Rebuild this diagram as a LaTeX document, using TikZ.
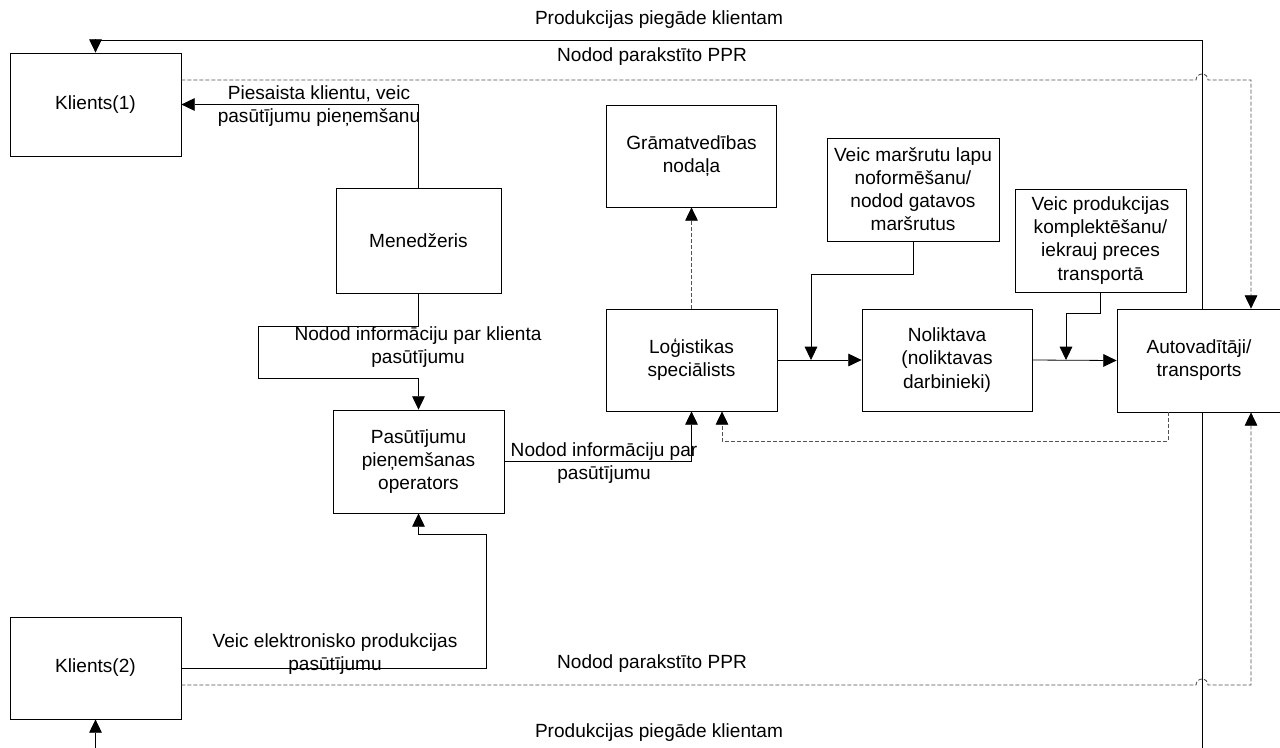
\documentclass[tikz,border=0pt]{standalone}
\usepackage{fontspec}
\setmainfont{Liberation Sans}
\usetikzlibrary{arrows.meta}
\begin{document}
\begin{tikzpicture}[x=0.75pt,y=-0.75pt,
  font=\fontsize{14.3}{17.3}\selectfont,
  box/.style 2 args={draw, fill=white, line width=0.6pt, align=center,
    inner sep=0pt, minimum width=#1*0.75pt, minimum height=#2*0.75pt},
  conn/.style={line width=0.6pt, draw=black},
  tip/.style={-{Triangle[length=10pt,width=9.5pt,black]}},
  dline/.style={line width=0.65pt, draw=black!68, dash pattern=on 3pt off 1.5pt},
  lbl/.style={align=center, inner sep=0pt}
]
\useasboundingbox (0,0) rectangle (1280,747);
\clip (0,0) rectangle (1280,747);
\fill[white] (0,0) rectangle (1280,747);

% boxes
\node[box={171}{103}] (k1)   at (95.5,104.5) {Klients(1)};
\node[box={171}{102}] (k2)   at (95.5,668)   {Klients(2)};
\node[box={165}{105}] (men)  at (418.5,240.5) {Menedžeris};
\node[box={171}{103}] (pas)  at (418.5,461.5) {Pasūtījumu\\pieņemšanas\\operators};
\node[box={171}{102}] (log)  at (691.5,360)  {Loģistikas\\speciālists};
\node[box={170}{102}] (gram) at (691.5,156)  {Grāmatvedības\\nodaļa};
\node[box={172}{103}] (mars) at (913,189.5)  {Veic maršrutu lapu\\noformēšanu/\\nodod gatavos\\maršrutus};
\node[box={170}{102}] (nol)  at (947,360)    {Noliktava\\(noliktavas\\darbinieki)};
\node[box={171}{103}] (prod) at (1100.5,240.5) {Veic produkcijas\\komplektēšanu/\\iekrauj preces\\transportā};
\node[box={164}{103}] (auto) at (1199,360.5) {Autovadītāji/\\transports};

% helper coordinates
\coordinate (vx) at (1202,0);
\coordinate (dx) at (1251,0);
\coordinate (j1) at (811,360);
\coordinate (j2) at (1066,360);

% delivery to clients (solid, around the right side)
\draw[conn,tip] (auto.north -| vx) -- (vx |- 0,40) -| (k1.north);
\draw[conn,tip] (auto.south -| vx) -- (vx |- 0,775) -| (k2.south);

% signed PPR (dashed, with line jumps)
\draw[dline,tip] (k1.east |- 0,80) -- (1196,80)
  arc[start angle=180,end angle=0,radius=4.5pt] -- (dx |- 0,80) -- (auto.north -| dx);
\draw[dline,tip] (k2.east |- 0,685) -- (1196,685)
  arc[start angle=180,end angle=0,radius=4.5pt] -- (dx |- 0,685) -- (auto.south -| dx);

% manager
\draw[conn,tip] (men.north) |- (k1.east);
\draw[conn,tip] (men.south) -- (men.south |- 0,326) -| (258,378) -| (pas.north);
\draw[conn,tip] (k2.east) -| (486,534) -| (pas.south);
\draw[conn,tip] (pas.east) -| (log.south);

% logistics
\draw[dline,tip] (log.north) -- (gram.south);
\draw[conn,tip] (log.east) -- (nol.west);
\draw[conn,tip] (mars.south) -- (mars.south |- 0,274) -| (j1);
\draw[conn,tip] (nol.east) -- (auto.west);
\draw[conn,tip] (prod.south) -- (prod.south |- 0,313) -| (j2);
\draw[dline,tip] (auto.south -| 1168,0) -- (1168,441) -| (log.south -| 722,0);

% labels
\node[lbl] (l1) at (659,20)  {Produkcijas piegāde klientam};
\node[lbl] (l2) at (652,57)  {Nodod parakstīto PPR};
\node[lbl] (l3) at (652,664) {Nodod parakstīto PPR};
\node[lbl] (l4) at (659,733) {Produkcijas piegāde klientam};
\node[lbl] (l5) at (319,106) {Piesaista klientu, veic\\pasūtījumu pieņemšanu};
\node[lbl] (l6) at (418,347) {Nodod informāciju par klienta\\pasūtījumu};
\node[lbl] (l7) at (604,463) {Nodod informāciju par\\pasūtījumu};
\node[lbl] (l8) at (335,654) {Veic elektronisko produkcijas\\pasūtījumu};
\end{tikzpicture}
\end{document}
